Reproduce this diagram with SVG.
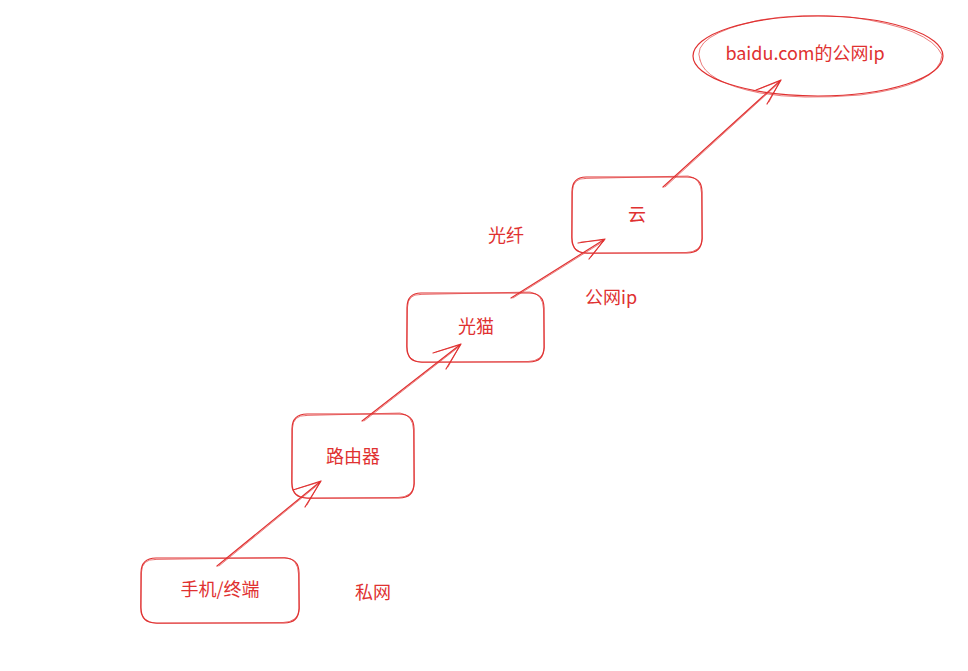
<svg xmlns="http://www.w3.org/2000/svg" width="968" height="671" viewBox="0 0 968 671">
<style>
.s{fill:none;stroke:#e03131;stroke-width:1.2;stroke-linecap:round;stroke-linejoin:round}
.s2{fill:none;stroke:#e03131;stroke-width:0.8;stroke-linecap:round;opacity:0.8}
.t{font-family:"Noto Sans CJK SC","Liberation Sans",sans-serif;font-size:18px;fill:#e03131;text-anchor:middle;dominant-baseline:central}
</style>
<rect width="968" height="671" fill="#ffffff"/>
<g id="node-phone">
<path class="s" d="M156 558 L284 558 Q299 558 299 573 L299 608 Q299 623 284 623 L156 623 Q141 623 141 608 L141 573 Q141 558 156 558 Z"/>
<path class="s2" d="M155 559.5 L285 557.5 Q298 558.5 298.5 574 L299.5 609 Q298 622 283 622.5 L157 623.5 Q140 622 140.5 607 L141.5 572 Q142 559 155 559.5"/>
<text class="t" x="220" y="588">手机/终端</text>
</g>
<g id="node-router">
<path class="s" d="M307 414 L399 414 Q414 414 414 429 L414 483 Q414 498 399 498 L307 498 Q292 498 292 483 L292 429 Q292 414 307 414 Z"/>
<path class="s2" d="M306 415.5 L400 413 Q413 415 413.5 430 L414.5 484 Q413 497 398 497.5 L308 498.5 Q291 497 291.5 482 L292.5 428 Q293 415 306 415.5"/>
<text class="t" x="353" y="455">路由器</text>
</g>
<g id="node-modem">
<path class="s" d="M421 293 L529 293 Q544 293 544 308 L544 347 Q544 362 529 362 L421 362 Q407 362 407 347 L407 308 Q407 293 421 293 Z"/>
<path class="s2" d="M420 294.5 L530 292 Q543 294 543.5 309 L544.5 348 Q543 361 528 361.5 L422 362.5 Q406 361 406.5 346 L407.5 307 Q408 294 420 294.5"/>
<text class="t" x="476" y="325">光猫</text>
</g>
<g id="node-cloud">
<path class="s" d="M586 177 L687 177 Q702 177 702 192 L702 238 Q702 253 687 253 L586 253 Q572 253 572 238 L572 192 Q572 177 586 177 Z"/>
<path class="s2" d="M585 178.5 L688 176 Q701 178 701.5 193 L702.5 239 Q701 252 686 252.5 L587 253.5 Q571 252 571.5 237 L572.5 191 Q573 178 585 178.5"/>
<text class="t" x="637" y="213">云</text>
</g>
<g id="node-baidu">
<ellipse class="s" cx="818" cy="56" rx="125" ry="40"/>
<path class="s2" d="M700 60 Q690 35 760 20 Q800 13 850 17 Q930 28 942 55 Q940 85 860 95 Q800 100 760 93 Q705 82 700 60"/>
<text class="t" x="805" y="52">baidu.com的公网ip</text>
</g>
<g id="label-private"><text class="t" x="373" y="591">私网</text></g>
<g id="label-fiber"><text class="t" x="506" y="234">光纤</text></g>
<g id="label-public"><text class="t" x="611" y="296">公网ip</text></g>
<g id="connectors">
<path class="s" d="M217 566 L321 481 M293 490 L321 481 L305 507"/>
<path class="s2" d="M219 566 L320 483 M296 489 L320 482 L307 505"/>
<path class="s" d="M362 421 L461 344 M433 353 L461 344 L446 369"/>
<path class="s2" d="M364 421 L460 346 M436 352 L460 345 L448 367"/>
<path class="s" d="M511 298 L605 239 M578 243 L605 239 L589 259"/>
<path class="s2" d="M513 298 L604 241 M581 242 L604 240 L591 257"/>
<path class="s" d="M663 187 L781 80 M756 90 L781 80 L767 104"/>
<path class="s2" d="M665 187 L780 82 M759 89 L780 81 L769 102"/>
</g>
</svg>
